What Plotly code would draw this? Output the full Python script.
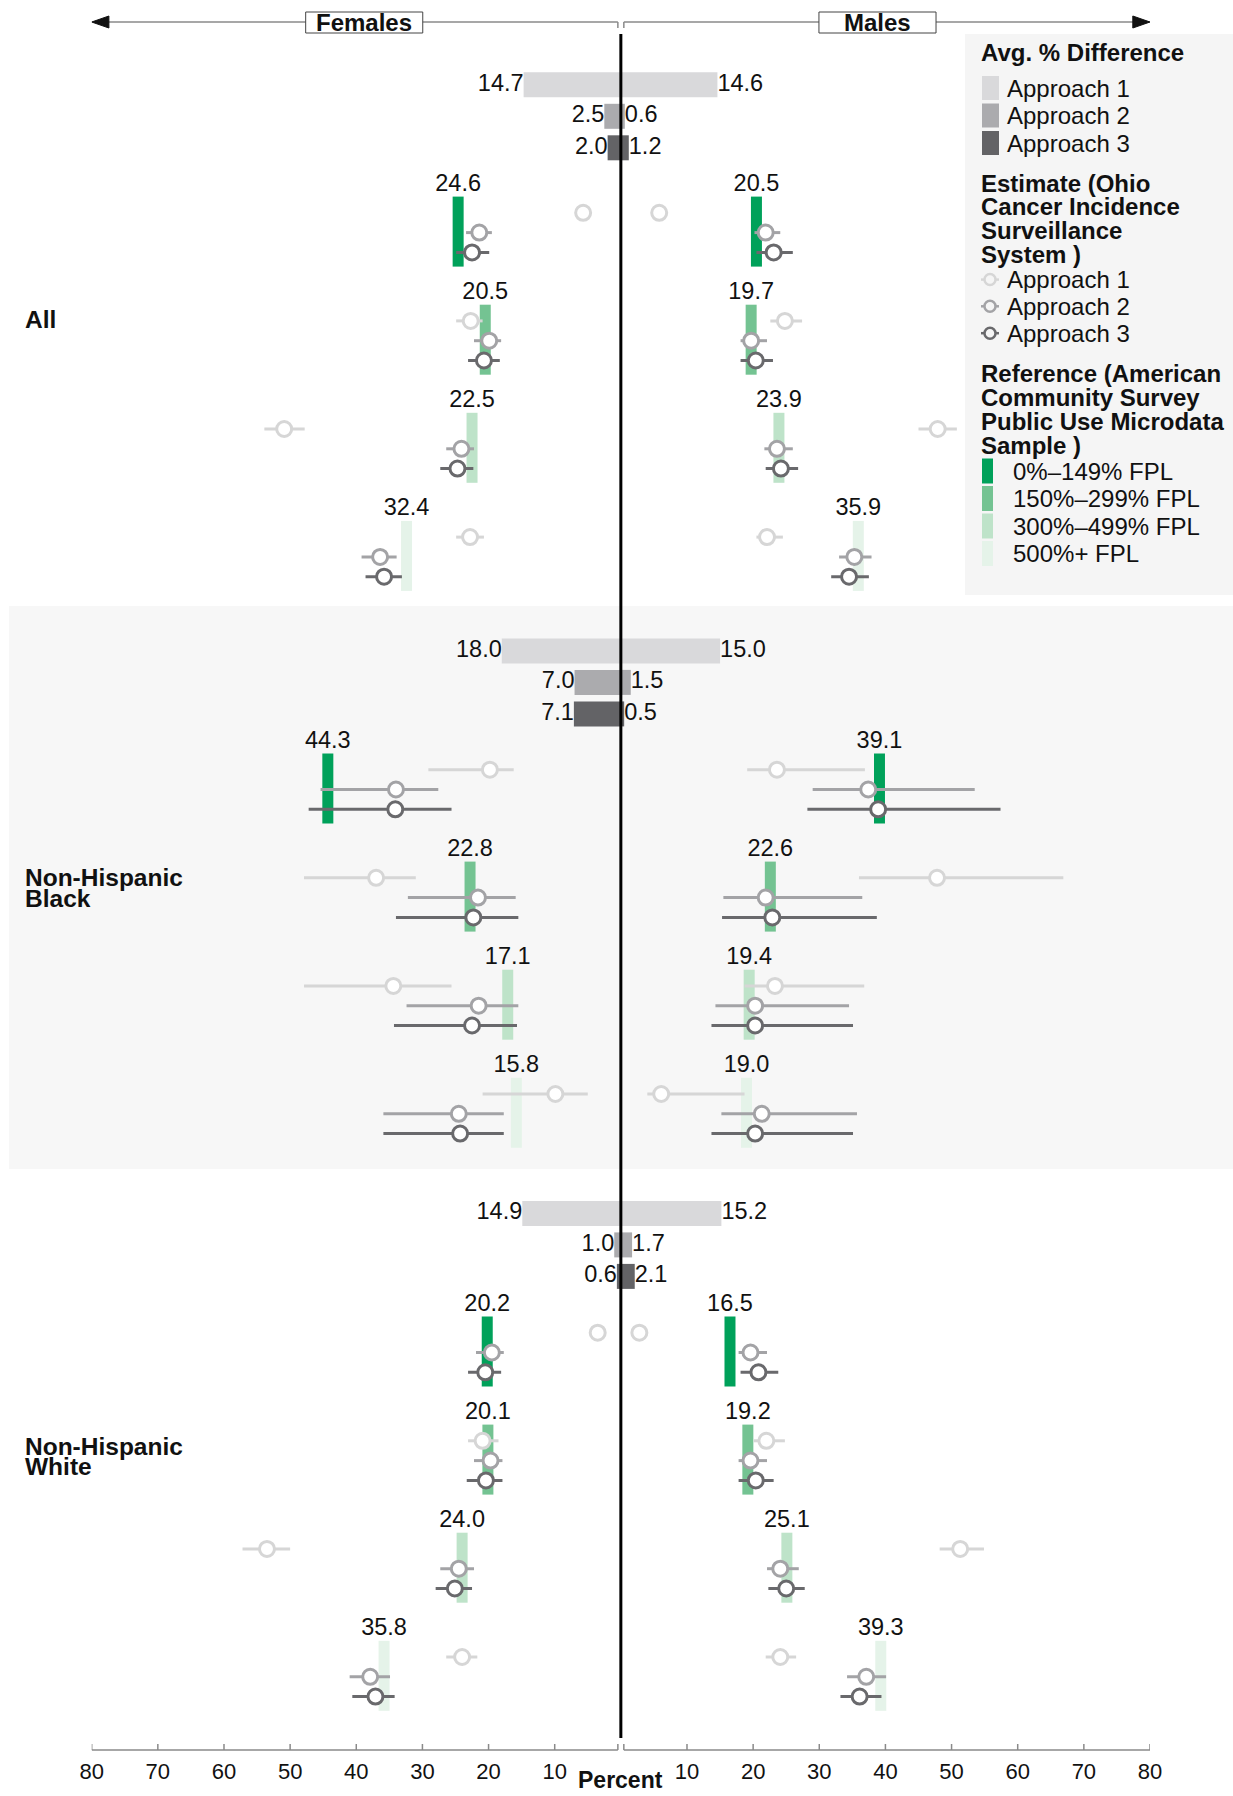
import plotly.graph_objects as go

# ---------------- data ----------------
GROUPS = ["All", "Non-Hispanic<br>Black", "Non-Hispanic<br>White"]
FPL = ["0%–149% FPL", "150%–299% FPL", "300%–499% FPL", "500%+ FPL"]
APPROACHES = ["Approach 1", "Approach 2", "Approach 3"]

# Avg % difference (per group: All, Black, White)
AVG_F_A1 = [14.7, 18.0, 14.9]
AVG_F_A2 = [2.5, 7.0, 1.0]
AVG_F_A3 = [2.0, 7.1, 0.6]
AVG_M_A1 = [14.6, 15.0, 15.2]
AVG_M_A2 = [0.6, 1.5, 1.7]
AVG_M_A3 = [1.2, 0.5, 2.1]

# Reference (ACS PUMS), order: group x FPL
REF_F = [24.6, 20.5, 22.5, 32.4, 44.3, 22.8, 17.1, 15.8, 20.2, 20.1, 24.0, 35.8]
REF_M = [20.5, 19.7, 23.9, 35.9, 39.1, 22.6, 19.4, 19.0, 16.5, 19.2, 25.1, 39.3]

# Estimates (OCISS) with CI, order: group x FPL
F_A1_EST = [5.7, 22.7, 50.9, 22.8, 19.8, 37.0, 34.4, 9.9, 3.5, 20.9, 53.5, 24.0]
F_A1_LO = [5.0, 20.9, 47.8, 20.7, 16.2, 31.0, 25.6, 5.0, 2.9, 18.5, 50.0, 21.7]
F_A1_HI = [6.4, 24.9, 53.9, 24.9, 29.1, 47.9, 47.9, 20.9, 4.1, 23.1, 57.2, 26.4]
F_A2_EST = [21.4, 19.9, 24.1, 36.4, 34.0, 21.6, 21.5, 24.5, 19.5, 19.7, 24.5, 37.9]
F_A2_LO = [19.5, 18.1, 22.2, 33.9, 27.6, 15.9, 15.5, 17.7, 17.7, 17.9, 22.2, 34.9]
F_A2_HI = [23.4, 22.2, 26.4, 39.2, 45.4, 32.2, 32.4, 35.9, 21.9, 22.2, 27.3, 41.0]
F_A3_EST = [22.5, 20.7, 24.7, 35.8, 34.1, 22.3, 22.5, 24.3, 20.5, 20.4, 25.1, 37.1]
F_A3_LO = [19.9, 18.3, 22.3, 33.1, 25.6, 15.5, 15.7, 17.7, 18.1, 17.9, 22.5, 34.2]
F_A3_HI = [24.9, 23.1, 27.3, 38.6, 47.2, 34.0, 34.3, 35.9, 23.1, 23.3, 28.0, 40.6]

M_A1_EST = [5.8, 24.8, 47.9, 22.1, 23.6, 47.8, 23.3, 6.1, 2.8, 22.0, 51.3, 24.1]
M_A1_LO = [5.1, 22.6, 45.0, 20.5, 19.1, 36.0, 18.7, 4.0, 2.2, 20.1, 48.2, 21.9]
M_A1_HI = [6.5, 27.4, 50.8, 24.5, 36.9, 66.9, 36.8, 18.7, 3.4, 24.8, 54.9, 26.5]
M_A2_EST = [21.9, 19.7, 23.6, 35.3, 37.4, 21.9, 20.3, 21.3, 19.6, 19.6, 24.1, 37.1]
M_A2_LO = [20.2, 18.1, 21.7, 33.0, 29.0, 15.5, 14.3, 15.2, 17.8, 17.8, 22.1, 34.2]
M_A2_HI = [24.1, 22.1, 26.0, 37.9, 53.5, 36.5, 34.5, 35.7, 22.1, 22.1, 26.9, 40.1]
M_A3_EST = [23.1, 20.4, 24.2, 34.5, 38.9, 22.9, 20.3, 20.3, 20.8, 20.4, 25.0, 36.1]
M_A3_LO = [20.5, 18.1, 21.9, 31.8, 28.2, 15.3, 13.7, 13.7, 18.1, 17.8, 22.3, 33.2]
M_A3_HI = [26.0, 23.0, 26.8, 37.5, 57.4, 38.7, 35.1, 35.1, 23.8, 23.1, 27.8, 39.4]

X_TICKS = [-80, -70, -60, -50, -40, -30, -20, -10, 10, 20, 30, 40, 50, 60, 70, 80]

# ---------------- styling / layout constants ----------------
W, H = 1233, 1796
PLOT_BOTTOM = 1756          # y axis is in pixel-like units
FONT = "Arial, Liberation Sans, Helvetica, sans-serif"
FS = 23.5
LFS = 24
AVG_COLORS = ["#d9d9db", "#ababae", "#636366"]
EST_COLORS = ["#d6d6d6", "#a3a3a6", "#69696c"]
FPL_COLORS = ["#00a15a", "#74c392", "#bee3c9", "#e5f3e9"]

AVG_Y0 = [84.8, 650.9, 1213.4]
AVG_DY = 31.5
BLK_Y0 = [232.6, 789.5, 1352.5]
BLK_DY = 108.1
EST_DY = 19.8
BAR_UP, BAR_DN = 36, 34

def avg_y(g, a):
    return AVG_Y0[g] + a * AVG_DY

def blk_y(i):
    g, k = divmod(i, 4)
    return BLK_Y0[g] + k * BLK_DY

fig = go.Figure()

# --- reference green bars ---
for k in range(4):
    xs, ys = [], []
    for i in range(12):
        if i % 4 != k:
            continue
        yc = blk_y(i)
        for v in (-REF_F[i], REF_M[i]):
            xs += [v, v, None]
            ys += [yc - BAR_UP, yc + BAR_DN, None]
    fig.add_trace(go.Scatter(x=xs, y=ys, mode="lines",
                             line=dict(color=FPL_COLORS[k], width=11),
                             hoverinfo="skip"))

# --- avg difference bars ---
avg_f = [AVG_F_A1, AVG_F_A2, AVG_F_A3]
avg_m = [AVG_M_A1, AVG_M_A2, AVG_M_A3]
for a in range(3):
    ys = [avg_y(g, a) for g in range(3)]
    fig.add_trace(go.Bar(orientation="h", x=[-v for v in avg_f[a]], y=ys, width=25,
                         marker=dict(color=AVG_COLORS[a], line=dict(width=0)), base=0))
    fig.add_trace(go.Bar(orientation="h", x=avg_m[a], y=ys, width=25,
                         marker=dict(color=AVG_COLORS[a], line=dict(width=0)), base=0))
    fig.add_trace(go.Scatter(x=[-v for v in avg_f[a]], y=ys, mode="text",
                             text=[f"{v:.1f}" for v in avg_f[a]], textposition="middle left",
                             textfont=dict(family=FONT, size=FS, color="#111")))
    fig.add_trace(go.Scatter(x=avg_m[a], y=ys, mode="text",
                             text=[f"{v:.1f}" for v in avg_m[a]], textposition="middle right",
                             textfont=dict(family=FONT, size=FS, color="#111")))

# --- reference labels ---
tops = [blk_y(i) - BAR_UP for i in range(12)]
fig.add_trace(go.Scatter(x=[-v for v in REF_F], y=tops, mode="text",
                         text=[f"{v:.1f}" for v in REF_F], textposition="top center",
                         textfont=dict(family=FONT, size=FS, color="#111")))
fig.add_trace(go.Scatter(x=REF_M, y=tops, mode="text",
                         text=[f"{v:.1f}" for v in REF_M], textposition="top center",
                         textfont=dict(family=FONT, size=FS, color="#111")))

# --- estimates with CIs ---
est_sets = [
    ("F", 0, F_A1_EST, F_A1_LO, F_A1_HI), ("F", 1, F_A2_EST, F_A2_LO, F_A2_HI),
    ("F", 2, F_A3_EST, F_A3_LO, F_A3_HI), ("M", 0, M_A1_EST, M_A1_LO, M_A1_HI),
    ("M", 1, M_A2_EST, M_A2_LO, M_A2_HI), ("M", 2, M_A3_EST, M_A3_LO, M_A3_HI),
]
for a in range(3):
    for sex, aa, est, lo, hi in est_sets:
        if aa != a:
            continue
        ys = [blk_y(i) + (a - 1) * EST_DY for i in range(12)]
        if sex == "F":
            xs = [-v for v in est]
            plus = [e - l for e, l in zip(est, lo)]
            minus = [h - e for e, h in zip(est, hi)]
        else:
            xs = est
            plus = [h - e for e, h in zip(est, hi)]
            minus = [e - l for e, l in zip(est, lo)]
        fig.add_trace(go.Scatter(
            x=xs, y=ys, mode="markers",
            marker=dict(symbol="circle", size=15, color="white",
                        line=dict(color=EST_COLORS[a], width=3)),
            error_x=dict(type="data", symmetric=False, array=plus, arrayminus=minus,
                         color=EST_COLORS[a], thickness=3, width=0),
            hoverinfo="skip"))

shapes = []
annotations = []

# group shading (Non-Hispanic Black)
shapes.append(dict(type="rect", xref="paper", yref="y", x0=9 / W, x1=1, y0=606, y1=1169,
                   fillcolor="#f7f7f7", line=dict(width=0), layer="below"))
# legend box
shapes.append(dict(type="rect", xref="paper", yref="y", x0=965 / W, x1=1, y0=34, y1=595,
                   fillcolor="#f5f5f5", line=dict(width=0), layer="below"))

# center line
shapes.append(dict(type="line", xref="x", yref="y", x0=0, x1=0, y0=34, y1=1738,
                   line=dict(color="black", width=3), layer="above"))

# bottom axis line with ticks
AX_Y = 1750
for s in (-1, 1):
    shapes.append(dict(type="line", xref="x", yref="y", x0=s * 0.45, x1=s * 80, y0=AX_Y, y1=AX_Y,
                       line=dict(color="#8a8a8a", width=1.5)))
    shapes.append(dict(type="line", xref="x", yref="y", x0=s * 0.45, x1=s * 0.45, y0=AX_Y, y1=AX_Y - 6,
                       line=dict(color="#8a8a8a", width=1.5)))
for t in X_TICKS:
    shapes.append(dict(type="line", xref="x", yref="y", x0=t, x1=t, y0=AX_Y, y1=AX_Y - 6,
                       line=dict(color="#8a8a8a", width=1.5)))

# header arrows
HY = 22
for s in (-1, 1):
    shapes.append(dict(type="line", xref="x", yref="y", x0=s * 0.45, x1=s * 78, y0=HY, y1=HY,
                       line=dict(color="#8a8a8a", width=1.5)))
    shapes.append(dict(type="line", xref="x", yref="y", x0=s * 0.45, x1=s * 0.45, y0=HY, y1=HY + 6,
                       line=dict(color="#8a8a8a", width=1.5)))
    shapes.append(dict(type="path", xref="x", yref="y",
                       path=f"M {s*80} {HY} L {s*77.4} {HY-6} L {s*77.4} {HY+6} Z",
                       fillcolor="#111", line=dict(color="#111", width=1)))
    shapes.append(dict(type="rect", xref="x", yref="y", x0=s * 29.95, x1=s * 47.65, y0=12.0, y1=33,
                       fillcolor="white", line=dict(color="#444", width=1)))
    annotations.append(dict(x=s * 38.8, y=HY + 0.5, xref="x", yref="y", showarrow=False,
                            yanchor="middle",
                            text="<b>" + ("Males" if s > 0 else "Females") + "</b>",
                            font=dict(family=FONT, size=24, color="#111")))

# group labels
GROUP_LABEL_Y = [[319.7], [877.8, 898.4], [1446.0, 1466.8]]
for g, name in enumerate(GROUPS):
    for line_txt, yy in zip(name.split("<br>"), GROUP_LABEL_Y[g]):
        annotations.append(dict(x=23 / W, y=yy, xref="paper", yref="y", xanchor="left",
                                yanchor="middle", showarrow=False, text=f"<b>{line_txt}</b>",
                                font=dict(family=FONT, size=24.5, color="#111")))

# Percent title
annotations.append(dict(x=0, y=(PLOT_BOTTOM - 1795) / PLOT_BOTTOM, xref="x", yref="paper",
                        yanchor="bottom", showarrow=False, text="<b>Percent</b>",
                        font=dict(family=FONT, size=23, color="#111")))

# ---------------- legend ----------------
LX_T = 979 / W
def ltitle(txt, y):
    annotations.append(dict(x=LX_T, y=y, xref="paper", yref="y", xanchor="left", yanchor="middle",
                            showarrow=False, text=f"<b>{txt}</b>",
                            font=dict(family=FONT, size=LFS, color="#111")))

def ltext(txt, x, y):
    annotations.append(dict(x=x / W, y=y, xref="paper", yref="y", xanchor="left", yanchor="middle",
                            showarrow=False, text=txt,
                            font=dict(family=FONT, size=LFS, color="#111")))

ltitle("Avg. % Difference", 52.7)
for a, yy in enumerate([88, 115.5, 143]):
    shapes.append(dict(type="rect", xref="paper", yref="y", x0=982 / W, x1=999 / W,
                       y0=yy - 12, y1=yy + 12, fillcolor=AVG_COLORS[a], line=dict(width=0)))
    ltext(APPROACHES[a], 1005, yy)

for t, yy in zip(["Estimate (Ohio", "Cancer Incidence", "Surveillance", "System )"],
                 [183, 206.5, 230, 254]):
    ltitle(t, yy)
for a, yy in enumerate([279.6, 306.3, 333.2]):
    shapes.append(dict(type="line", xref="paper", yref="y", x0=981 / W, x1=999 / W,
                       y0=yy, y1=yy, line=dict(color=EST_COLORS[a], width=2.5)))
    shapes.append(dict(type="circle", xref="paper", yref="y", x0=984.5 / W, x1=995.5 / W,
                       y0=yy - 5.5, y1=yy + 5.5, fillcolor="#f5f5f5",
                       line=dict(color=EST_COLORS[a], width=2.5)))
    ltext(APPROACHES[a], 1005, yy)

for t, yy in zip(["Reference (American", "Community Survey", "Public Use Microdata", "Sample )"],
                 [373.6, 397.6, 421.7, 445.8]):
    ltitle(t, yy)
for k, yy in enumerate([471, 498.5, 526, 553.5]):
    shapes.append(dict(type="rect", xref="paper", yref="y", x0=982 / W, x1=993 / W,
                       y0=yy - 12.5, y1=yy + 12.5, fillcolor=FPL_COLORS[k], line=dict(width=0)))
    ltext(FPL[k], 1011, yy)

fig.update_layout(
    width=W, height=H,
    margin=dict(l=0, r=0, t=0, b=H - PLOT_BOTTOM, autoexpand=False),
    paper_bgcolor="white", plot_bgcolor="rgba(0,0,0,0)",
    showlegend=False, barmode="overlay",
    shapes=shapes, annotations=annotations,
    font=dict(family=FONT, color="#111"),
    xaxis=dict(domain=[91.7 / W, 1150 / W], range=[-80, 80], tickvals=X_TICKS,
               ticktext=[str(abs(t)) for t in X_TICKS], showgrid=False, zeroline=False,
               showline=False, ticks="", tickfont=dict(family=FONT, size=22, color="#111"),
               fixedrange=True, automargin=False),
    yaxis=dict(domain=[0, 1], range=[PLOT_BOTTOM, 0], visible=False, fixedrange=True,
               automargin=False),
)

fig.write_html("out.html")
